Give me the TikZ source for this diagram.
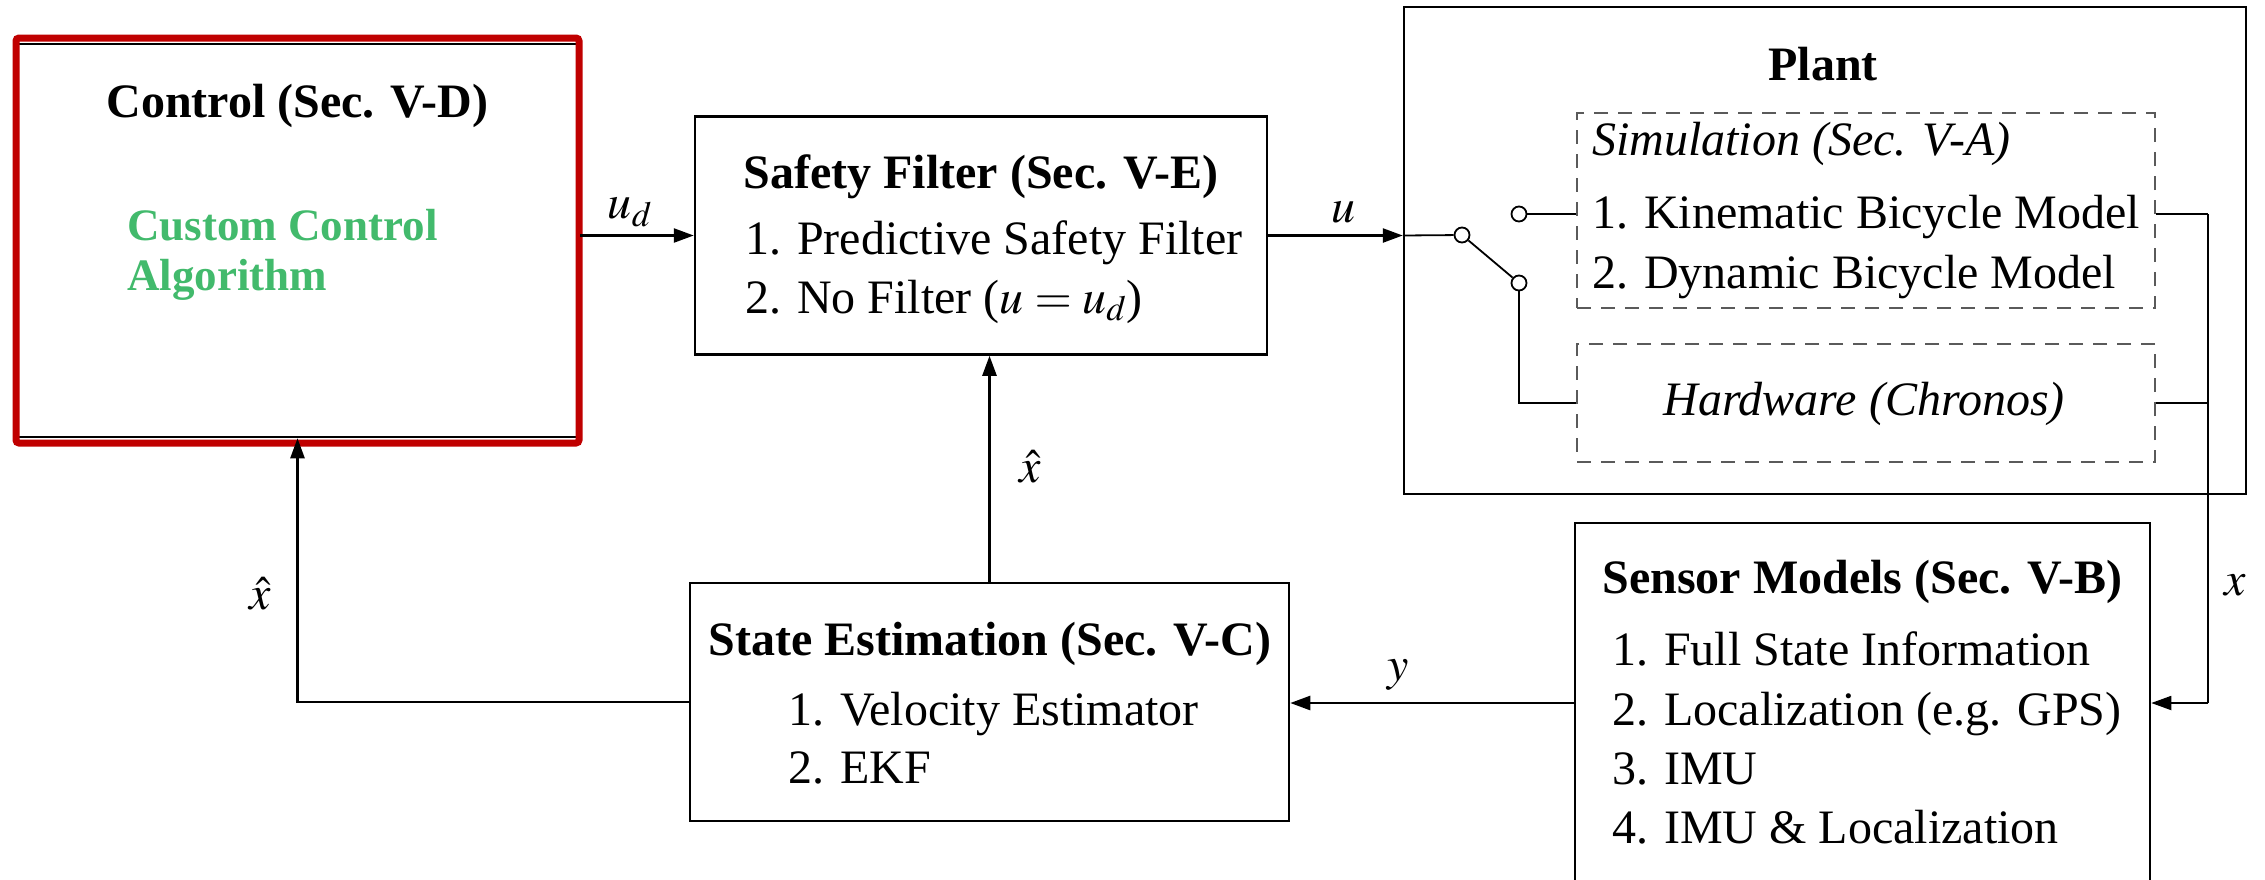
\documentclass[tikz,border=0pt]{standalone}
\usepackage{mathptmx}
\usepackage{fontspec}
\setmainfont{Liberation Serif}
\usetikzlibrary{arrows.meta}
\definecolor{ctrlred}{RGB}{192,0,0}
\definecolor{ctrlgreen}{RGB}{66,186,108}
\definecolor{dashgray}{RGB}{90,90,90}
\tikzset{
  blk/.style={draw, line width=2.5pt, inner sep=0pt},
  dbox/.style={draw=dashgray, line width=2pt, dash pattern=on 14pt off 10pt, inner sep=0pt},
  arr/.style={line width=2.5pt, -{Triangle[length=20pt,width=14pt]}},
  thin/.style={line width=1.8pt},
  sw/.style={circle, draw, line width=1.8pt, minimum size=15pt, inner sep=0pt},
  txt/.style={inner sep=0pt, font=\fontsize{48}{57}\selectfont},
  ttl/.style={inner sep=0pt, font=\fontsize{48}{57}\selectfont\bfseries},
  grn/.style={inner sep=0pt, text=ctrlgreen, font=\fontsize{45}{50}\selectfont\bfseries},
  lbl/.style={inner sep=0pt, font=\fontsize{48}{57}\selectfont},
}
\begin{document}
\begin{tikzpicture}[x=1pt, y=-1pt]
\useasboundingbox (0,0) rectangle (2265,879);
\fill[white] (0,0) rectangle (2265,879);

% boxes
\node[blk, minimum width=563pt, minimum height=393pt] (ctrl) at (297.5,240.5) {};
\draw[ctrlred, line width=7pt, rounded corners=3pt] (16,38) rectangle (579,443);
\node[blk, minimum width=572pt, minimum height=238pt] (safe) at (981,235.5) {};
\node[blk, minimum width=842pt, minimum height=487pt] (plant) at (1825,250.5) {};
\node[dbox, minimum width=578pt, minimum height=195pt] (sim) at (1866,210.5) {};
\node[dbox, minimum width=578pt, minimum height=118pt] (hw) at (1866,403) {};
\node[blk, minimum width=575pt, minimum height=360pt] (sens) at (1862.5,703) {};
\node[blk, minimum width=599pt, minimum height=238pt] (state) at (989.5,702) {};

% texts
\node[ttl, anchor=base] (tctrl) at (297.5,117) {Control (Sec. V-D)};
\node[grn, anchor=base west] (tgreen1) at (127,240) {Custom Control};
\node[grn, anchor=base west] (tgreen2) at (127,290) {Algorithm};
\node[ttl, anchor=base] (tsafe) at (981,188) {Safety Filter (Sec. V-E)};
\node[txt, anchor=base west] (s1) at (745,254) {1. Predictive Safety Filter};
\node[txt, anchor=base west] (s2) at (745,313) {2. No Filter ($u=u_d$)};
\node[ttl, anchor=base] (tplant) at (1823,80) {Plant};
\node[txt, anchor=base west, font=\fontsize{48}{57}\selectfont\itshape] (tsim) at (1592,155) {Simulation (Sec. V-A)};
\node[txt, anchor=base west] (p1) at (1592,228) {1. Kinematic Bicycle Model};
\node[txt, anchor=base west] (p2) at (1592,288) {2. Dynamic Bicycle Model};
\node[txt, anchor=base, font=\fontsize{48}{57}\selectfont\itshape] (thw) at (1864,415) {Hardware (Chronos)};
\node[ttl, anchor=base] (tsens) at (1862.5,593) {Sensor Models (Sec. V-B)};
\node[txt, anchor=base west] (m1) at (1612,665) {1. Full State Information};
\node[txt, anchor=base west] (m2) at (1612,725) {2. Localization (e.g. GPS)};
\node[txt, anchor=base west] (m3) at (1612,784) {3. IMU};
\node[txt, anchor=base west] (m4) at (1612,843) {4. IMU \& Localization};
\node[ttl, anchor=base] (tstate) at (990,655) {State Estimation (Sec. V-C)};
\node[txt, anchor=base west] (e1) at (788,725) {1. Velocity Estimator};
\node[txt, anchor=base west] (e2) at (788,783) {2. EKF};

% connectors
\draw[arr] (ctrl.east |- safe.west) -- (safe.west);
\draw[arr] (safe.east) -- (safe.east -| plant.west);
\node[sw] (c1) at (1462,235) {};
\node[sw] (c2) at (1519,214) {};
\node[sw] (c3) at (1519,283) {};
\draw[thin] (safe.east -| plant.west) -- (c1);
\draw[thin] (c1) -- (c3);
\draw[thin] (c2) -- (c2 -| sim.west);
\draw[thin] (c3) |- (hw.west);
\coordinate (bus) at (2208,703);
\draw[thin] (c2 -| sim.east) -- (bus |- c2);
\draw[thin] (hw.east) -- (bus |- hw.east);
\draw[thin] (bus |- c2) -- (bus);
\draw[arr, line width=1.8pt] (bus) -- (sens.east);
\draw[arr] (sens.west) -- (sens.west -| state.east);
\draw[arr] (state.north) -- (state.north |- safe.south);
\draw[arr] (state.west) -| (ctrl.south);

% labels
\node[lbl] (lud) at (630,212) {$u_d$};
\node[lbl] (lu) at (1343,212) {$u$};
\node[lbl] (lx1) at (1030,467) {$\hat{x}$};
\node[lbl] (lx2) at (260,594) {$\hat{x}$};
\node[lbl] (ly) at (1398,675) {$y$};
\node[lbl] (lx) at (2235,585) {$x$};
\end{tikzpicture}
\end{document}
